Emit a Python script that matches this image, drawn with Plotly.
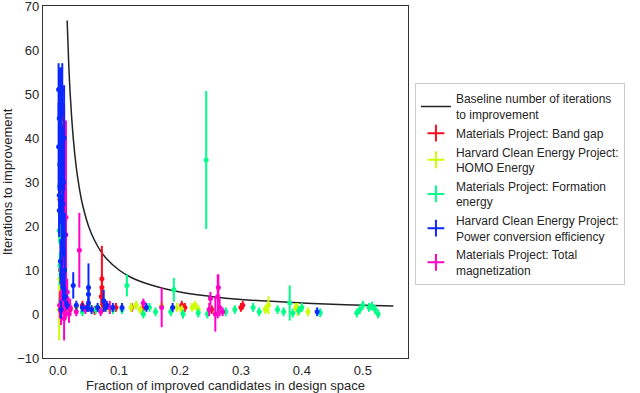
import plotly.graph_objects as go

# Baseline curve
base_x = [0.015, 0.0175, 0.02, 0.025, 0.03, 0.035, 0.04, 0.05, 0.06, 0.07, 0.08, 0.1, 0.12,
          0.15, 0.2, 0.25, 0.3, 0.35, 0.4, 0.45, 0.5, 0.55]
base_y = [66.7, 57.1, 50, 40, 33.3, 28.6, 25, 20, 16.7, 14.3, 12.5, 10, 8.3,
          6.7, 5, 4, 3.3, 2.9, 2.5, 2.2, 2.0, 1.8]

# Materials Project: Band gap
bg_x = [0.004, 0.007, 0.008, 0.010, 0.006, 0.003, 0.005, 0.008, 0.004, 0.006, 0.003, 0.010,
        0.072, 0.072, 0.071, 0.073, 0.020, 0.040, 0.060, 0.095, 0.121, 0.139, 0.203, 0.208,
        0.252, 0.300, 0.303, 0.012, 0.015]
bg_y = [48, 42.5, 43, 33.5, 28, 26, 20, 15, 10, 5, 2, 1,
        8, 6, 4, 2, 1, 2, 0.8, 1.5, 1.5, 1.2, 2, 1.5,
        1, 1.5, 2, 3, 1.5]
bg_e = [8, 5, 5, 14, 8, 6, 5, 4, 3, 2, 1.5, 1,
        7.5, 3, 2, 1.5, 1, 1, 1, 1, 1, 1, 1, 1,
        1, 1, 1, 2, 1]

# Harvard Clean Energy Project: HOMO Energy
ho_x = [0.004, 0.006, 0.003, 0.005, 0.004, 0.005, 0.003, 0.004, 0.002, 0.008, 0.012, 0.006,
        0.009, 0.052, 0.069, 0.082, 0.12, 0.128, 0.135, 0.195, 0.203, 0.22, 0.225, 0.23,
        0.34, 0.345, 0.39, 0.393, 0.41, 0.03, 0.015, 0.17]
ho_y = [43.5, 34, 29.5, 25, 18, 12, 8, 4, 1, 2, 3, 21,
        15, 1.5, 1, 1.5, 1.5, 2, 1, 1.5, 1, 1.5, 2, 1,
        1, 2, 1.5, 1, 0.5, 1.5, 1, 2]
ho_e = [2, 3, 3, 2, 3, 3, 4, 3, 7, 2, 2, 3,
        3, 1, 1, 1, 1, 1, 1, 1, 1, 1, 1, 1,
        1, 2, 1, 1.5, 1, 1, 1, 1]

# Materials Project: Formation energy
fe_x = [0.005, 0.003, 0.004, 0.006, 0.003, 0.005, 0.004, 0.010, 0.015, 0.002, 0.007,
        0.243, 0.113, 0.19, 0.38, 0.04, 0.09, 0.105, 0.14, 0.15, 0.185, 0.205, 0.23,
        0.245, 0.275, 0.29, 0.32, 0.33, 0.36, 0.37, 0.385, 0.395, 0.40, 0.43,
        0.49, 0.495, 0.50, 0.51, 0.515, 0.52, 0.525, 0.16, 0.062]
fe_y = [36, 27, 22, 16, 11, 7, 3, 2, 5, 19, 13,
        35, 6.5, 5.5, 2.5, 0.5, 1, 1, 0, 1.5, 0.5, 0, 0.2,
        0, 0.5, 1, 1.5, 0.5, 1, 0.5, 0.2, 0.8, 1.5, 0.3,
        0.2, 1, 2, 1.5, 1.8, 1, 0, 0.5, 1]
fe_e = [2, 2, 3, 3, 3, 3, 2, 2, 3, 3, 3,
        15.7, 2.5, 2.7, 4, 1, 1, 1, 1, 1, 1, 1, 1,
        1, 1, 1, 1, 1, 1, 1, 1, 1, 1, 1,
        1, 1, 1, 1, 1, 1, 1, 1, 1]

# Harvard Clean Energy Project: Power conversion efficiency
pc_x = [0.001, 0.003, 0.005, 0.007, 0.004, 0.002, 0.001, 0.006, 0.005, 0.007, 0.004,
        0.003, 0.008, 0.002, 0.006, 0.009, 0.011, 0.007, 0.004, 0.006, 0.008, 0.012,
        0.015, 0.005, 0.025, 0.005, 0.003, 0.009, 0.010, 0.002, 0.011,
        0.05, 0.05, 0.05, 0.048, 0.03, 0.04, 0.065, 0.075, 0.078, 0.08, 0.09, 0.105,
        0.145, 0.188, 0.425, 0.055]
pc_y = [51, 51, 51, 51, 47, 44.5, 38, 39, 36.5, 35, 32,
        29, 25, 23.5, 21, 18, 18, 15, 12, 9, 6, 4,
        2, 1, 6.5, 42, 34, 30, 40, 27, 10,
        6, 4.5, 2.5, 1.5, 2, 1.5, 1.5, 3, 1.5, 2, 1.5, 1.5,
        1.5, 1.5, 0.5, 1]
pc_e = [6, 5, 5, 6, 7, 8, 10, 10, 8, 7, 9,
        8, 7, 6, 6, 5, 5, 4, 5, 3, 3, 2,
        1, 2, 3, 10, 12, 8, 12, 9, 5,
        5.5, 2, 1, 1, 1, 1, 1, 2.5, 1, 1, 1, 1,
        1, 1, 1, 1]

# Materials Project: Total magnetization
tm_x = [0.013, 0.010, 0.009, 0.011, 0.013, 0.008, 0.010, 0.006, 0.003, 0.005, 0.009,
        0.013, 0.015, 0.017, 0.018, 0.010, 0.035, 0.02, 0.03, 0.045, 0.07, 0.085,
        0.14, 0.17, 0.25, 0.248, 0.262, 0.263, 0.265, 0.27, 0.258, 0.007, 0.011, 0.004]
tm_y = [22, 33, 25, 22, 18, 14, 8, 5, 2, 0.5, 1,
        3, 5, 2, 0, -1, 14.5, 1.5, 0.5, 1, 0.5, 1.5,
        2.5, 1.5, 3.5, 1, 4, 6, 1.5, 0.5, 0, 7, 4, 1]
tm_e = [22, 5, 7, 12, 10, 8, 6, 5, 3, 3, 2,
        4, 3, 2, 2, 5, 8.5, 2, 1, 1, 1, 1.5,
        1, 4.5, 1.5, 1.5, 5, 3, 2, 1, 4, 4, 3, 2]

series = [
    ("Materials Project: Band gap", bg_x, bg_y, bg_e, "#ff0a1e"),
    ("Harvard Clean Energy Project:<br>HOMO Energy", ho_x, ho_y, ho_e, "#ccff00"),
    ("Materials Project: Formation<br>energy", fe_x, fe_y, fe_e, "#00ff88"),
    ("Harvard Clean Energy Project:<br>Power conversion efficiency", pc_x, pc_y, pc_e, "#0a28ff"),
    ("Materials Project: Total<br>magnetization", tm_x, tm_y, tm_e, "#ff00c8"),
]
draw_order = [0, 1, 2, 4, 3]

fig = go.Figure()
fig.add_trace(go.Scatter(x=base_x, y=base_y, mode="lines", line=dict(color="#222222", width=1.5, shape="spline"),
                         name="Baseline number of iterations<br>to improvement"))

for i in draw_order:
    name, xs, ys, es, col = series[i]
    fig.add_trace(go.Scatter(
        x=xs, y=ys, mode="markers", showlegend=False,
        marker=dict(color=col, size=5),
        error_y=dict(type="data", array=es, color=col, thickness=2, width=0),
    ))
for name, xs, ys, es, col in series:
    fig.add_trace(go.Scatter(
        x=[None], y=[None], mode="markers", name=name,
        marker=dict(color=col, size=12, symbol="cross-thin", line=dict(color=col, width=2)),
    ))

font_fam = "Liberation Sans, Arial"
axis_common = dict(showgrid=False, zeroline=False, showline=True, mirror=True,
                   linecolor="#333333", linewidth=1.3, automargin=False,
                   ticklabeloverflow="allow",
                   tickfont=dict(size=13, color="#262626", family=font_fam))
fig.update_xaxes(range=[-0.0246, 0.574], tickvals=[0.0, 0.1, 0.2, 0.3, 0.4, 0.5],
                 ticktext=["0.0", "0.1", "0.2", "0.3", "0.4", "0.5"],
                 ticks="", **axis_common)
fig.update_yaxes(range=[-10, 70], tickvals=[-10, 0, 10, 20, 30, 40, 50, 60, 70],
                 ticktext=["\u221210", "0", "10", "20", "30", "40", "50", "60", "70"],
                 ticks="",
                 title=dict(text="Iterations to improvement", standoff=4,
                            font=dict(size=13, color="#262626", family=font_fam)),
                 **axis_common)

fig.add_annotation(text="Fraction of improved candidates in design space",
                   xref="paper", yref="paper", x=0.5, y=-0.0795, yanchor="middle", xanchor="center",
                   showarrow=False,
                   font=dict(size=13, color="#262626", family=font_fam))

fig.update_layout(
    width=640, height=393,
    margin=dict(l=43, r=232, t=6, b=35),
    plot_bgcolor="white", paper_bgcolor="white",
    font=dict(family=font_fam, color="#262626"),
    legend=dict(x=1.019, y=0.78, xanchor="left", yanchor="top",
                bordercolor="#cccccc", borderwidth=1, bgcolor="white",
                font=dict(size=12, color="#262626"), tracegroupgap=0, itemwidth=30),
)

fig.write_html("out.html", config={"displayModeBar": False},
               post_script="document.body.style.margin='0';")
